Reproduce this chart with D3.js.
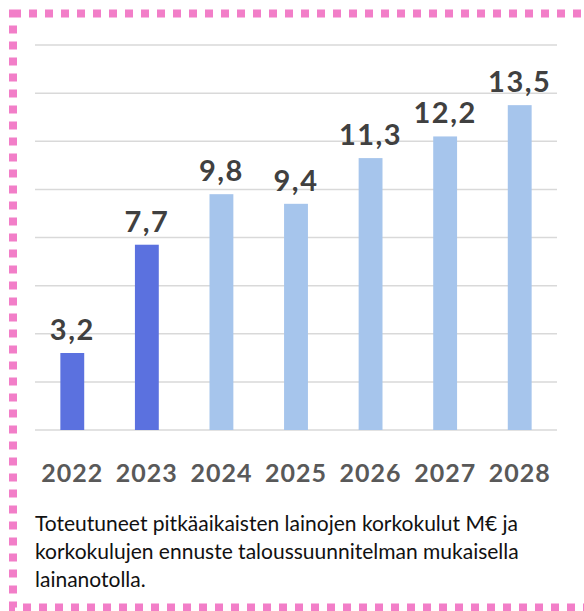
<!DOCTYPE html>
<html>
<head>
<meta charset="utf-8">
<script src="https://cdn.jsdelivr.net/npm/d3@7"></script>
<style>
  html, body { margin: 0; padding: 0; background: #fff; }
  svg { display: block; }
</style>
</head>
<body>
<div id="chart"></div>
<script>
const years = ["2022", "2023", "2024", "2025", "2026", "2027", "2028"];
const values = [3.2, 7.7, 9.8, 9.4, 11.3, 12.2, 13.5];
const realised = [true, true, false, false, false, false, false];
const yTicks = [0, 2, 4, 6, 8, 10, 12, 14, 16];
const captionLines = [
  "Toteutuneet pitkäaikaisten lainojen korkokulut M€ ja",
  "korkokulujen ennuste taloussuunnitelman mukaisella",
  "lainanotolla."
];

const width = 584, height = 611;
const fontFamily = "Lato, 'Open Sans', sans-serif";

const svg = d3.select("#chart").append("svg")
  .attr("width", width)
  .attr("height", height);

// pink dotted frame (right edge runs off the picture)
svg.append("rect")
  .attr("x", 13)
  .attr("y", 13.5)
  .attr("width", 600)
  .attr("height", 594)
  .attr("fill", "none")
  .attr("stroke", "#f27ec8")
  .attr("stroke-width", 8)
  .attr("stroke-dasharray", "8 8");

const x = d3.scaleBand()
  .domain(years)
  .range([35, 557])
  .paddingInner(0.68)
  .paddingOuter(0.34);

const y = d3.scaleLinear()
  .domain([0, 16])
  .range([430, 45]);

// gridlines
svg.append("g")
  .selectAll("line")
  .data(yTicks)
  .enter().append("line")
  .attr("x1", 35)
  .attr("x2", 557)
  .attr("y1", d => y(d))
  .attr("y2", d => y(d))
  .attr("stroke", "#d9d9d9")
  .attr("stroke-width", 1.5);

// bars
svg.append("g")
  .selectAll("rect")
  .data(values)
  .enter().append("rect")
  .attr("x", (d, i) => x(years[i]))
  .attr("y", d => y(d))
  .attr("width", x.bandwidth())
  .attr("height", d => y(0) - y(d))
  .attr("fill", (d, i) => realised[i] ? "#5b71df" : "#a6c5ec");

// value labels
svg.append("g")
  .selectAll("text")
  .data(values)
  .enter().append("text")
  .attr("x", (d, i) => x(years[i]) + x.bandwidth() / 2)
  .attr("y", d => y(d) - 13)
  .attr("text-anchor", "middle")
  .style("font-family", fontFamily)
  .style("font-weight", "bold")
  .style("font-size", "29px")
  .style("letter-spacing", "1.5px")
  .style("fill", "#404040")
  .text(d => d.toFixed(1).replace(".", ","));

// year axis labels
const xAxis = svg.append("g")
  .attr("transform", `translate(0, ${y(0)})`)
  .call(d3.axisBottom(x).tickSize(0).tickPadding(0));
xAxis.select(".domain").remove();
xAxis.selectAll("text")
  .attr("y", 52)
  .attr("dy", 0)
  .style("font-family", fontFamily)
  .style("font-weight", "bold")
  .style("font-size", "25px")
  .style("letter-spacing", "1px")
  .style("fill", "#595959");

// caption
svg.append("g")
  .selectAll("text")
  .data(captionLines)
  .enter().append("text")
  .attr("x", 35)
  .attr("y", (d, i) => 531 + i * 28)
  .style("font-family", fontFamily)
  .style("font-size", "21px")
  .style("fill", "#111")
  .text(d => d);
</script>
</body>
</html>
